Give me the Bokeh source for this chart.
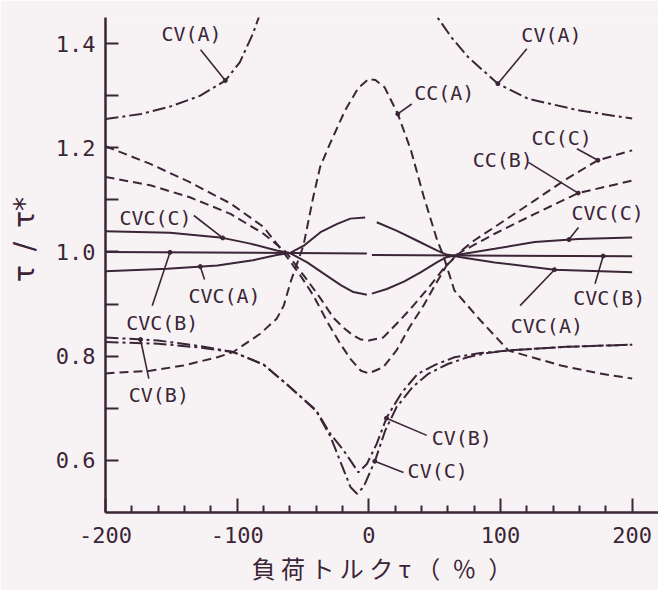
import numpy as np
from bokeh.plotting import figure
from bokeh.models import FixedTicker, Label, PrintfTickFormatter
from bokeh.embed import file_html
from bokeh.resources import INLINE

NAN = float("nan")
INK = "#3b2536"
PAPER = "#f7f3f5"

# ---- load-torque (%) vs. torque ratio curves ----
# CV : dash-dot, CC : dashed, CVC : solid.  NaN breaks a line.
cv_a_x = [-200, -173, -151, -128, -109, -98, -88, -82.5, -80, NAN,
          48, 50, 62.7, 75.4, 98, 121, 159, 200]
cv_a_y = [1.255, 1.265, 1.279, 1.300, 1.329, 1.364, 1.419, 1.458, 1.48, NAN,
          1.48, 1.458, 1.412, 1.374, 1.323, 1.294, 1.272, 1.256]

cv_b_x = [-200, -160, -130, -103, -80, -60, -40, -29, -20, -14, -8, -1.5,
          6, 13.7, 25, 37, 50, 65, 85, 106, 150, 200]
cv_b_y = [0.836, 0.830, 0.820, 0.808, 0.784, 0.741, 0.696, 0.650, 0.622,
          0.600, 0.577, 0.593, 0.632, 0.683, 0.730, 0.766, 0.783, 0.798,
          0.806, 0.811, 0.818, 0.822]

cv_c_x = [-200, -160, -130, -103, -80, -60, -40, -29, -19, -14, -9, -4,
          4.8, 12.4, 21, 33, 45, 60, 75, 90, 106, 150, 200]
cv_c_y = [0.827, 0.824, 0.817, 0.808, 0.784, 0.741, 0.695, 0.645, 0.581,
          0.549, 0.536, 0.549, 0.600, 0.657, 0.702, 0.740, 0.766, 0.785,
          0.798, 0.806, 0.811, 0.818, 0.822]

cc_a_x = [-200, -166, -141, -115, -103, -82.5, -70, -64.6, -59.5, -49.7,
          -42, -37, -30, -18, -8, 0, 5, 12, 22, 32, 41.5, 51.6, 56.6, 65,
          85, 106, 146, 175, 200]
cc_a_y = [0.767, 0.772, 0.782, 0.798, 0.808, 0.843, 0.872, 0.897, 0.942,
          1.012, 1.108, 1.163, 1.205, 1.272, 1.315, 1.332, 1.330, 1.316,
          1.265, 1.195, 1.108, 1.025, 0.993, 0.926, 0.868, 0.811, 0.782,
          0.767, 0.757]

cc_b_x = [-200, -166, -136, -105, -80, -63, -46.8, -37, -27, -19, -12, -6,
          0, 11, 23.7, 33.8, 46.5, 58, 70, 95.6, 126, 159, 200]
cc_b_y = [1.144, 1.128, 1.105, 1.073, 1.035, 1.000, 0.946, 0.912, 0.874,
          0.854, 0.840, 0.832, 0.830, 0.836, 0.869, 0.897, 0.935, 0.972,
          1.000, 1.035, 1.073, 1.113, 1.137]

cc_c_x = [-200, -166, -136, -105, -80, -65, -52, -42, -32, -22, -14, -6,
          0, 11, 21, 31, 41.5, 50, 59, 68, 80, 95.6, 126, 150, 174, 200]
cc_c_y = [1.203, 1.169, 1.134, 1.093, 1.048, 1.000, 0.955, 0.916, 0.868,
          0.825, 0.795, 0.772, 0.767, 0.779, 0.811, 0.856, 0.897, 0.935,
          0.974, 0.998, 1.022, 1.048, 1.099, 1.140, 1.176, 1.195]

cvc_a_x = [-200, -153, -115, -88, -70, -60, -49.4, -36.7, -24, -14, -2.8,
           NAN, 6, 21, 36.4, 51.6, 59, 70, 95.6, 141, 200]
cvc_a_y = [0.963, 0.968, 0.974, 0.984, 0.994, 0.998, 1.012, 1.038, 1.054,
           1.064, 1.066, NAN, 1.057, 1.041, 1.022, 1.003, 0.995, 0.990,
           0.980, 0.966, 0.961]

cvc_b_x = [-200, -1.5, NAN, 2.3, 200]
cvc_b_y = [1.000, 0.997, NAN, 0.994, 0.992]

cvc_c_x = [-200, -151, -113, -90, -70, -60, -46.8, -34, -21, -11.7, -1.5,
           NAN, 2.3, 13.7, 26.6, 39.3, 51.6, 59, 69, 95.6, 126, 159, 200]
cvc_c_y = [1.040, 1.037, 1.028, 1.016, 1.003, 0.998, 0.980, 0.958, 0.936,
           0.923, 0.918, NAN, 0.920, 0.929, 0.943, 0.961, 0.980, 0.990,
           0.995, 1.006, 1.019, 1.025, 1.028]

series = {
    "CV(A)": (cv_a_x, cv_a_y, "13 4 3 4"),
    "CV(B)": (cv_b_x, cv_b_y, "13 4 3 4"),
    "CV(C)": (cv_c_x, cv_c_y, "13 4 3 4"),
    "CC(A)": (cc_a_x, cc_a_y, "9 5"),
    "CC(B)": (cc_b_x, cc_b_y, "9 5"),
    "CC(C)": (cc_c_x, cc_c_y, "9 5"),
    "CVC(A)": (cvc_a_x, cvc_a_y, "solid"),
    "CVC(B)": (cvc_b_x, cvc_b_y, "solid"),
    "CVC(C)": (cvc_c_x, cvc_c_y, "solid"),
}

x_major = [-200, -100, 0, 100, 200]
x_minor = [-180, -160, -140, -120, -80, -60, -40, -20,
           20, 40, 60, 80, 120, 140, 160, 180]
y_major = [0.6, 0.8, 1.0, 1.2, 1.4]
y_minor = [0.7, 0.9, 1.1, 1.3]

# label text, curve, text centre (x, y), leader start (x, y), leader foot x on curve
callouts = [
    ("CV(A)", "CV(A)", -134.7, 1.419, -127.8, 1.388, -109),
    ("CV(A)", "CV(A)", 138.7, 1.417, 120.0, 1.390, 98),
    ("CC(A)", "CC(A)", 57.3, 1.305, 32.6, 1.284, 22),
    ("CC(C)", "CC(C)", 146.5, 1.219, 158.0, 1.198, 174),
    ("CC(B)", "CC(B)", 101.7, 1.177, 121.2, 1.172, 159),
    ("CVC(C)", "CVC(C)", 181.4, 1.074, 159.2, 1.047, 152),
    ("CVC(B)", "CVC(B)", 182.6, 0.911, 171.8, 0.939, 178),
    ("CVC(A)", "CVC(A)", 135.2, 0.857, 114.9, 0.897, 141),
    ("CVC(C)", "CVC(C)", -162.0, 1.065, -132.9, 1.070, -111),
    ("CVC(A)", "CVC(A)", -109.6, 0.916, -124.8, 0.947, -128),
    ("CVC(B)", "CVC(B)", -156.9, 0.864, -164.5, 0.897, -151),
    ("CV(B)", "CV(B)", -159.5, 0.726, -167.1, 0.757, -173.4),
    ("CV(B)", "CV(B)", 70.6, 0.643, 44.0, 0.648, 13.4),
    ("CV(C)", "CV(C)", 52.3, 0.579, 26.3, 0.577, 4.5),
]


def on_curve(name, x):
    xs = np.asarray(series[name][0], float)
    ys = np.asarray(series[name][1], float)
    ok = ~np.isnan(xs) & ~np.isnan(ys)
    return float(np.interp(x, xs[ok], ys[ok]))


p = figure(width=658, height=590, x_range=(-200, 220), y_range=(0.5, 1.45),
           output_backend="svg", toolbar_location=None,
           min_border_left=105, min_border_right=0,
           min_border_top=17, min_border_bottom=78)
p.background_fill_color = PAPER
p.border_fill_color = PAPER
p.outline_line_color = None
p.grid.visible = False

for name, (xs, ys, dash) in series.items():
    p.line(np.asarray(xs, float), np.asarray(ys, float), line_color=INK,
           line_width=2, line_dash=dash)

# callout texts and leader lines
foot_x, foot_y = [], []
for text, curve, tx, ty, lx, ly, fx in callouts:
    fy = on_curve(curve, fx)
    p.segment(x0=[lx], y0=[ly], x1=[fx], y1=[fy], line_color=INK, line_width=1.6)
    foot_x.append(fx)
    foot_y.append(fy)
    p.add_layout(Label(x=tx, y=ty, text=text, text_align="center",
                       text_baseline="middle", text_color=INK,
                       text_font="DejaVu Sans Mono", text_font_size="20px"))
p.scatter(foot_x, foot_y, size=4, color=INK)

for ax in (p.xaxis[0], p.yaxis[0]):
    ax.axis_line_color = INK
    ax.axis_line_width = 2.5
    ax.major_tick_line_color = INK
    ax.minor_tick_line_color = INK
    ax.major_tick_line_width = 2
    ax.minor_tick_line_width = 2
    ax.major_tick_out = 0
    ax.minor_tick_out = 0
    ax.major_label_text_color = INK
    ax.major_label_text_font = "DejaVu Sans Mono"
    ax.major_label_text_font_size = "22px"
    ax.axis_label_text_color = INK
    ax.axis_label_text_font_style = "normal"

xa = p.xaxis[0]
xa.ticker = FixedTicker(ticks=x_major, minor_ticks=x_minor)
xa.formatter = PrintfTickFormatter(format="%d")
xa.major_tick_in = 14
xa.minor_tick_in = 7
xa.major_label_standoff = 14
xa.axis_label = "負 荷 ト ル ク τ （\u2002％\u2002）"
xa.axis_label_text_font = "Noto Sans CJK JP"
xa.axis_label_text_font_size = "24px"
xa.axis_label_standoff = 4

ya = p.yaxis[0]
ya.ticker = FixedTicker(ticks=y_major, minor_ticks=y_minor)
ya.formatter = PrintfTickFormatter(format="%.1f")
ya.major_tick_in = 13
ya.minor_tick_in = 13
ya.major_label_standoff = 10
# leading spaces lift the rotated label a little above the frame centre
ya.axis_label = "\u2002\u2002\u2002\u00a0τ\u2002/\u2002τ*"
ya.axis_label_text_font = "DejaVu Sans"
ya.axis_label_text_font_size = "28px"
ya.axis_label_standoff = 12

open("out.html", "w").write(file_html(p, INLINE))
